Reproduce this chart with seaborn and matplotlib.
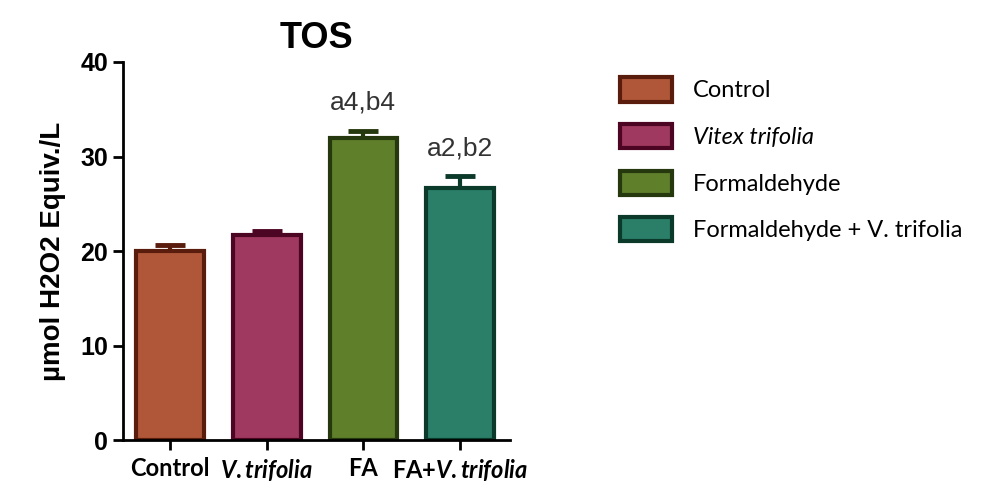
import matplotlib
matplotlib.use("Agg")
import matplotlib.pyplot as plt
import matplotlib.patches as mpatches
import numpy as np
import pandas as pd
import seaborn as sns

groups = ["Control", "V.trifolia", "FA", "FA+V.trifolia"]
means = [20.0, 21.7, 32.0, 26.7]
sem = [0.6, 0.4, 0.7, 1.2]
annotations = ["", "", "a4,b4", "a2,b2"]
legend_labels = ["Control", "Vitex trifolia", "Formaldehyde", "Formaldehyde + V. trifolia"]
fill_colors = ["#B0573A", "#A0395F", "#5F7F2B", "#2B7F69"]
edge_colors = ["#5A1C0C", "#4C0522", "#26380E", "#0B3A2B"]

sns.set_theme(style="ticks")
plt.rcParams["font.family"] = ["Liberation Sans", "DejaVu Sans"]
plt.rcParams["text.color"] = "black"
plt.rcParams["axes.labelcolor"] = "black"
plt.rcParams["xtick.color"] = "black"
plt.rcParams["ytick.color"] = "black"
plt.rcParams["mathtext.fontset"] = "custom"
plt.rcParams["mathtext.rm"] = "Lato:bold"
plt.rcParams["mathtext.it"] = "Lato:italic:bold"

df = pd.DataFrame({"group": groups, "value": means})

fig = plt.figure(figsize=(9.89, 4.88), dpi=100)
ax = fig.add_axes([0.124, 0.098, 0.392, 0.775])

sns.barplot(data=df, x="group", y="value", hue="group", palette=fill_colors,
            saturation=1, legend=False, width=0.7, linewidth=3, ax=ax)
for patch, ec in zip(ax.patches, edge_colors):
    patch.set_edgecolor(ec)
    patch.set_zorder(2)

# only upper error bars, drawn in the bar's edge colour, behind the bars
for i, (m, e, ec) in enumerate(zip(means, sem, edge_colors)):
    ax.errorbar(i, m, yerr=[[0], [e]], fmt="none", ecolor=ec,
                elinewidth=3, capsize=11, capthick=3.5, zorder=1)

for i, (m, e, txt) in enumerate(zip(means, sem, annotations)):
    if txt:
        ax.text(i, m + e + 3.0, txt, ha="center", va="center", fontsize=19,
                color="#333333")

ax.set_ylim(0, 40)
ax.set_xlim(-0.49, 3.52)
ax.set_yticks([0, 10, 20, 30, 40])
ax.tick_params(axis="y", labelsize=18, width=2, length=7)
ax.tick_params(axis="x", width=2, length=7, pad=5)
for lab in ax.get_yticklabels():
    lab.set_fontweight("bold")
for s in ["left", "bottom"]:
    ax.spines[s].set_linewidth(2)
    ax.spines[s].set_color("black")
sns.despine(ax=ax)

ax.set_xticks(range(len(groups)))
ax.set_xticklabels(["Control", r"$\it{V.trifolia}$", "FA",
                    r"FA+$\it{V.trifolia}$"],
                   family="Lato", fontsize=17, fontweight="bold")
ax.set_xlabel("")
ax.set_ylabel("µmol H2O2 Equiv./L", fontsize=20, fontweight="bold", labelpad=10)
ax.set_title("TOS", fontsize=26, fontweight="bold", pad=10)

handles = [mpatches.Patch(facecolor=fc, edgecolor=ec, linewidth=3)
           for fc, ec in zip(fill_colors, edge_colors)]
leg = fig.legend(handles, legend_labels, loc="upper left",
                 bbox_to_anchor=(0.605, 0.885), frameon=False,
                 prop={"family": "Lato", "size": 17},
                 handlelength=2.2, handleheight=1.2, labelspacing=0.95,
                 handletextpad=0.9)
leg.get_texts()[1].set_fontstyle("italic")

fig.savefig("out.png", dpi=100)
